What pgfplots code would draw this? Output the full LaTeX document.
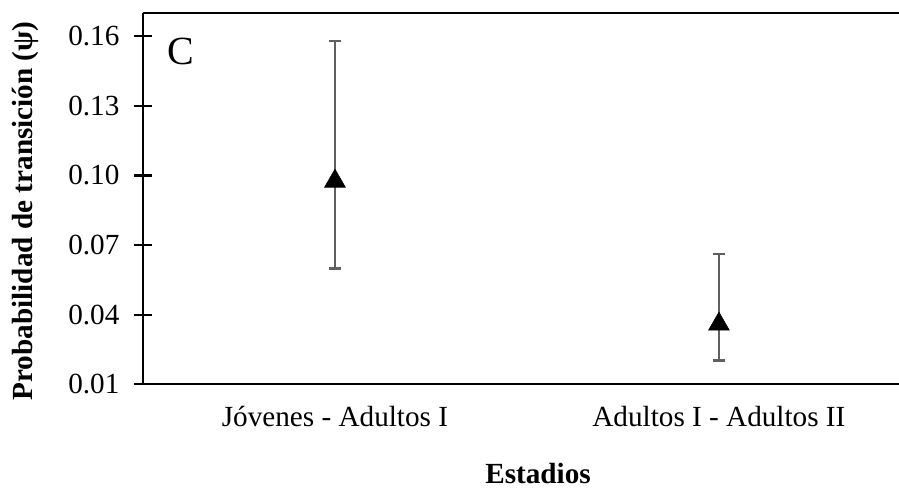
\documentclass[border=0pt]{standalone}
\usepackage{fontspec}
\setmainfont{Liberation Serif}
\usepackage{pgfplots}
\pgfplotsset{compat=1.18}

\definecolor{errgray}{RGB}{96,96,96}

\begin{document}
\begin{tikzpicture}
% page frame: 899 x 493 px at 0.5pt per px, origin at the lower left corner of the plot area
\useasboundingbox (-71.5pt,-54.35pt) rectangle (378pt,192.15pt);
\begin{axis}[
  at={(0,0)}, anchor=south west,
  scale only axis,
  width=378pt, height=185.65pt,
  xmin=-0.5, xmax=1.469,
  ymin=0.01, ymax=0.17,
  axis x line*=box,
  axis y line*=left,
  axis line style={line width=1.15pt, black, -},
  xtick={0,1},
  xticklabels={Jóvenes - Adultos I, Adultos I - Adultos II},
  xtick style={draw=none},
  ytick={0.01,0.04,0.07,0.10,0.13,0.16},
  ytick pos=left,
  tick align=center,
  major tick length=8.5pt,
  ytick style={line width=1.15pt, black},
  tick label style={font=\fontsize{14.6}{17}\selectfont},
  /pgf/number format/.cd, fixed, fixed zerofill, precision=2, assume math mode=true,
  /pgfplots/.cd,
  xticklabel style={anchor=center, yshift=-12pt},
  yticklabel style={anchor=east, xshift=-4pt},
  xlabel={\textbf{Estadios}},
  xlabel style={at={(axis description cs:0.5225,-0.2397)}, anchor=center, font=\fontsize{14.6}{17}\selectfont},
  ylabel={\textbf{Probabilidad de transición (ψ)}},
  ylabel style={at={(axis description cs:-0.1560,0.467)}, anchor=center, rotate=0, font=\fontsize{14.6}{17}\selectfont},
  clip=false,
]
\addplot+[
  only marks,
  mark=triangle*,
  mark size=6pt,
  mark options={fill=black, draw=black, yshift=-1.5pt, line width=0.3pt},
  error bars/.cd,
    y dir=both, y explicit,
    error bar style={line width=1.2pt, errgray},
    error mark options={rotate=90, mark size=3pt, line width=1.2pt, errgray},
] coordinates {
  (0, 0.0988) -= (0, 0.0389) += (0, 0.0591)
  (1, 0.0372) -= (0, 0.0170) += (0, 0.0289)
};
\node[font=\fontsize{20}{24}\selectfont, anchor=center] at (axis description cs:0.0503,0.896) {C};
\end{axis}
\end{tikzpicture}
\end{document}
